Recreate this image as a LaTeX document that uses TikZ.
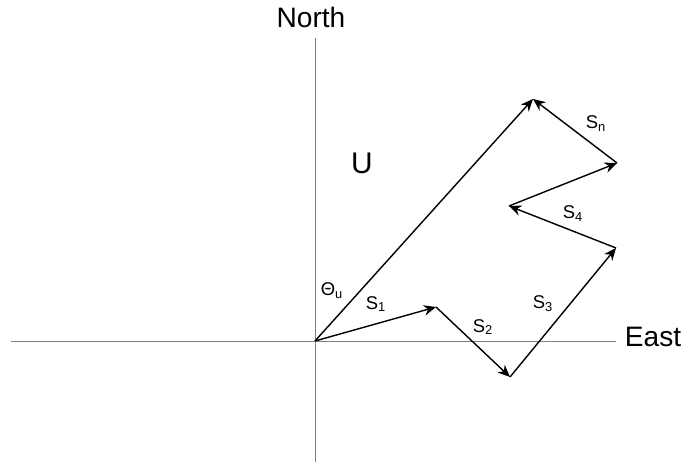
\documentclass[tikz,border=0pt]{standalone}
\usepackage{fontspec}
\setmainfont{Liberation Sans}
\usepackage{tikz}
\usetikzlibrary{arrows.meta}

\begin{document}
\begin{tikzpicture}[
    x=0.02cm, y=-0.02cm,
    axis/.style={gray, line width=0.5pt},
    vec/.style={-{Stealth[length=7pt, width=6pt]}, line width=0.8pt, black},
    big/.style={font=\fontsize{16}{18}\selectfont},
    lab/.style={font=\fontsize{10.5}{12}\selectfont}
]
\useasboundingbox (0,0) rectangle (688,462);
% axes
\coordinate (o) at (315,341);
\coordinate (west) at (11,341);
\coordinate (east) at (616,341);
\coordinate (top) at (315,38);
\coordinate (bottom) at (315,462);
\draw[axis] (west) -- (east);
\draw[axis] (top) -- (bottom);
\node[big] (north) at (311,17) {North};
\node[big] (eastlab) at (653,337) {East};
% path of steps
\coordinate (p1) at (436,307);
\coordinate (p2) at (510,377);
\coordinate (p3) at (616,248);
\coordinate (p4) at (509,206);
\coordinate (p5) at (617,163);
\coordinate (pn) at (533,99);
\draw[vec] (o) -- (p1);
\draw[vec] (p1) -- (p2);
\draw[vec] (p2) -- (p3);
\draw[vec] (p3) -- (p4);
\draw[vec] (p4) -- (p5);
\draw[vec] (p5) -- (pn);
\draw[vec] (o) -- (pn);
% labels
\node[font=\fontsize{17}{20}\selectfont] (u) at (362,163) {U};
\node[lab] (theta) at (332,291) {Θ\textsubscript{u}};
\node[lab] (s1) at (376,304) {S\textsubscript{1}};
\node[lab] (s2) at (483,327) {S\textsubscript{2}};
\node[lab] (s3) at (543,304) {S\textsubscript{3}};
\node[lab] (s4) at (573,214) {S\textsubscript{4}};
\node[lab] (sn) at (596,124) {S\textsubscript{n}};
\end{tikzpicture}
\end{document}
